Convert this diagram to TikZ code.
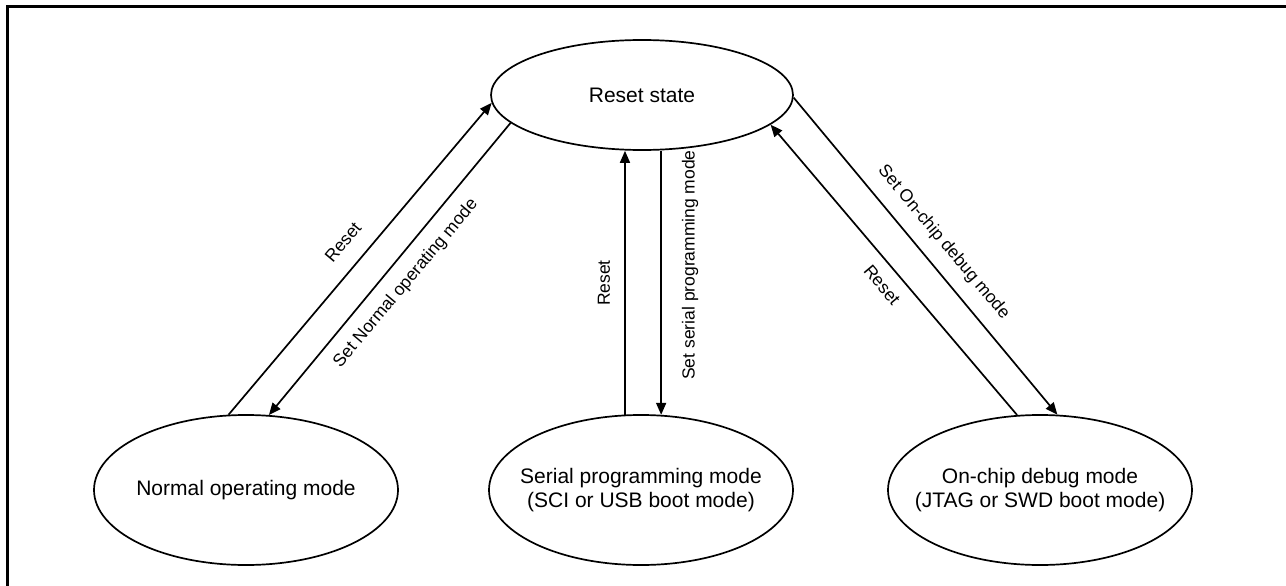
\documentclass[tikz,border=0pt]{standalone}
\usepackage{fontspec}
\setmainfont{Liberation Sans}
\usetikzlibrary{shapes.geometric,arrows.meta}
\begin{document}
\begin{tikzpicture}[x=1pt,y=-1pt,
  stateshape/.style={ellipse,draw,line width=1.7pt,inner sep=0pt,minimum width=304pt,minimum height=150pt},
  statetext/.style={align=center,font=\fontsize{21}{24.5}\selectfont,inner sep=0pt},
  arr/.style={line width=1.7pt,-{Triangle[length=12pt,width=10pt]}},
  lbl/.style={font=\fontsize{17.5}{20}\selectfont,inner sep=0pt}]
\useasboundingbox (0,0) rectangle (1286,586);
\draw[line width=3pt] (7,600) -- (7,6.5) -- (1300,6.5);
% states
\node[stateshape,minimum width=302pt,minimum height=110pt] (rst) at (642,95) {};
\node[statetext] (rstt) at (rst) {Reset state};
\node[stateshape] (nrm) at (246,490) {};
\node[statetext] (nrmt) at (nrm) {Normal operating mode};
\node[stateshape] (srl) at (641,490) {};
\node[statetext] (srlt) at (srl) {Serial programming mode\\(SCI or USB boot mode)};
\node[stateshape] (dbg) at (1040,490) {};
\node[statetext] (dbgt) at (dbg) {On-chip debug mode\\(JTAG or SWD boot mode)};
% connectors
\draw[arr] (nrm.103.5) -- (rst.183);
\draw[arr] (rst.192) -- (nrm.73.6);
\draw[arr] (srl.102) -- (srl.102 |- rst.south);
\draw[arr] (srl.75 |- rst.south) -- (srl.75);
\draw[arr] (rst.-1) -- (dbg.77);
\draw[arr] (dbg.107) -- (rst.-13);
% labels
\node[lbl,rotate=50] (l1) at (343,242) {Reset};
\node[lbl,rotate=50] (l2) at (406,283.5) {Set Normal operating mode};
\node[lbl,rotate=90] (l3) at (604,283) {Reset};
\node[lbl,rotate=90] (l4) at (690,265) {Set serial programming mode};
\node[lbl,rotate=-50] (l5) at (943.5,242.5) {Set On-chip debug mode};
\node[lbl,rotate=-50] (l6) at (882,285) {Reset};
\end{tikzpicture}
\end{document}
